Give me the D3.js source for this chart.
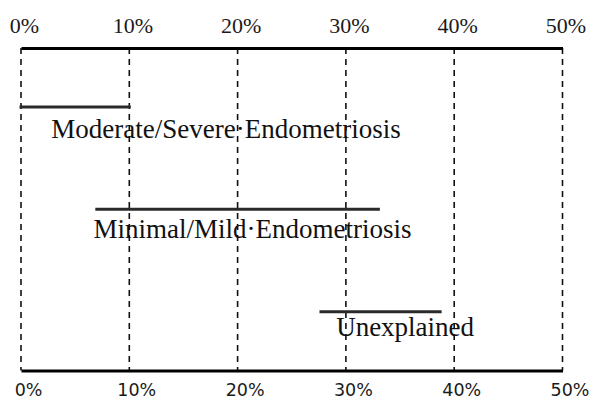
<!DOCTYPE html>
<html>
<head>
<meta charset="utf-8">
<script src="https://cdn.jsdelivr.net/npm/d3@7"></script>
<style>
  html, body { margin: 0; padding: 0; background: #fff; }
  svg { display: block; }
</style>
</head>
<body>
<svg id="chart" width="589" height="401"></svg>
<script>
// ---- data ----
const categories = ["Moderate/Severe·Endometriosis", "Minimal/Mild·Endometriosis", "Unexplained"];
const lowValues  = [0, 7, 27.7];
const highValues = [10, 33, 38.7];
const labelStart = [2.8, 6.7, 29.1];   // where each label begins, in %
const tickValues = [0, 10, 20, 30, 40, 50];
const tickLabels = ["0%", "10%", "20%", "30%", "40%", "50%"];

// ---- layout ----
const svg = d3.select("#chart");
const x = d3.scaleLinear().domain([0, 50]).range([21, 562.5]);
const y = d3.scalePoint().domain(categories).range([107, 311.7]);
const topY = 48, botY = 370.5;

// gridlines
svg.append("g").selectAll("line").data(tickValues).join("line")
  .attr("x1", d => x(d)).attr("x2", d => x(d))
  .attr("y1", topY).attr("y2", botY)
  .attr("stroke", "#111").attr("stroke-width", 1.6)
  .attr("stroke-dasharray", "6,5");

// top axis
const topAxis = d3.axisTop(x).tickValues(tickValues).tickFormat((d, i) => tickLabels[i]).tickSize(0);
const gTop = svg.append("g").attr("transform", `translate(0,${topY})`).call(topAxis);
gTop.select(".domain").attr("stroke", "#000").attr("stroke-width", 3);
gTop.selectAll(".tick text")
  .attr("font-family", "'Liberation Serif', 'Times New Roman', serif")
  .attr("font-size", 22).attr("fill", "#1a1a1a")
  .attr("text-anchor", "middle")
  .attr("dy", null).attr("y", 33.3 - topY).attr("dx", 3);

// bottom axis
const botAxis = d3.axisBottom(x).tickValues(tickValues).tickFormat((d, i) => tickLabels[i]).tickSize(0);
const gBot = svg.append("g").attr("transform", `translate(0,${botY})`).call(botAxis);
gBot.select(".domain").attr("stroke", "#000").attr("stroke-width", 3.2);
gBot.selectAll(".tick text")
  .attr("font-family", "'DejaVu Sans', Verdana, sans-serif")
  .attr("font-size", 17.5).attr("fill", "#1a1a1a")
  .attr("text-anchor", "middle")
  .attr("dy", null).attr("y", 396 - botY).attr("dx", 7);

// range bars
const rows = categories.map((c, i) => ({ c, lo: lowValues[i], hi: highValues[i], lab: labelStart[i] }));
svg.append("g").selectAll("line").data(rows).join("line")
  .attr("x1", d => x(d.lo)).attr("x2", d => x(d.hi))
  .attr("y1", d => y(d.c)).attr("y2", d => y(d.c))
  .attr("stroke", "#2a2a2a").attr("stroke-width", 3)
  .attr("stroke-linecap", "square");

// labels
const labelDy = [31, 29, 24];
svg.append("g").selectAll("text").data(rows).join("text")
  .attr("x", d => x(d.lab))
  .attr("y", (d, i) => y(d.c) + labelDy[i])
  .attr("font-family", "'Liberation Serif', 'Times New Roman', serif")
  .attr("font-size", 27).attr("fill", "#111")
  .text(d => d.c);
</script>
</body>
</html>
